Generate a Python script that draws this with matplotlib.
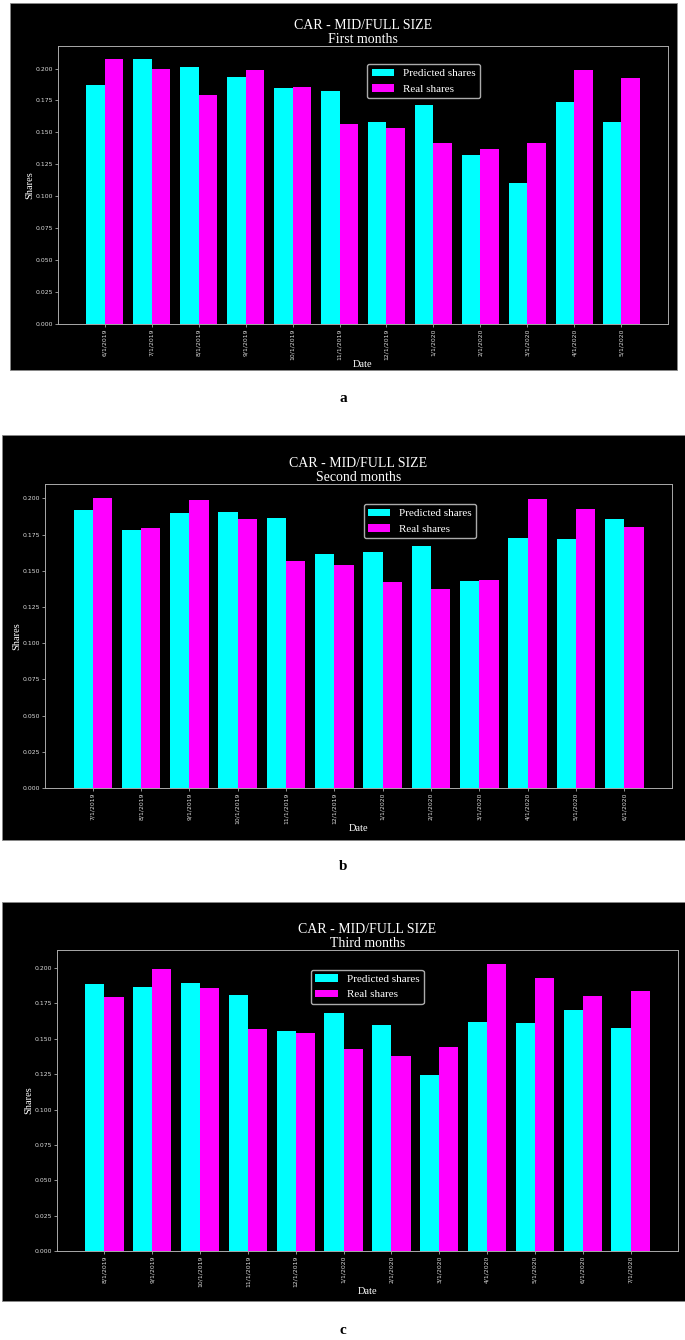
import matplotlib
matplotlib.use("Agg")
import matplotlib.pyplot as plt
from matplotlib.patches import Rectangle
import numpy as np

# ---------------- data ----------------
dates_a = ["6/1/2019", "7/1/2019", "8/1/2019", "9/1/2019", "10/1/2019", "11/1/2019",
           "12/1/2019", "1/1/2020", "2/1/2020", "3/1/2020", "4/1/2020", "5/1/2020"]
pred_a = [0.1875, 0.2073, 0.2010, 0.1935, 0.1844, 0.1825, 0.1585, 0.1713, 0.1322, 0.1106, 0.1737, 0.1578]
real_a = [0.2073, 0.1997, 0.1791, 0.1987, 0.1857, 0.1565, 0.1538, 0.1421, 0.1374, 0.1416, 0.1992, 0.1924]

dates_b = ["7/1/2019", "8/1/2019", "9/1/2019", "10/1/2019", "11/1/2019", "12/1/2019",
           "1/1/2020", "2/1/2020", "3/1/2020", "4/1/2020", "5/1/2020", "6/1/2020"]
pred_b = [0.1917, 0.1781, 0.1903, 0.1906, 0.1862, 0.1618, 0.1627, 0.1675, 0.1431, 0.1728, 0.1717, 0.1855]
real_b = [0.2000, 0.1795, 0.1991, 0.1859, 0.1569, 0.1539, 0.1424, 0.1376, 0.1435, 0.1995, 0.1926, 0.1804]

dates_c = ["8/1/2019", "9/1/2019", "10/1/2019", "11/1/2019", "12/1/2019", "1/1/2020",
           "2/1/2020", "3/1/2020", "4/1/2020", "5/1/2020", "6/1/2020", "7/1/2020"]
pred_c = [0.1884, 0.1865, 0.1894, 0.1809, 0.1554, 0.1681, 0.1594, 0.1244, 0.1615, 0.1608, 0.1702, 0.1573]
real_c = [0.1797, 0.1993, 0.1861, 0.1570, 0.1540, 0.1426, 0.1379, 0.1440, 0.2026, 0.1929, 0.1804, 0.1839]

main_title = "CAR - MID/FULL SIZE"
subtitles = ["First months", "Second months", "Third months"]
panel_letters = ["a", "b", "c"]

# ---------------- layout ----------------
W, H = 685, 1340
fig = plt.figure(figsize=(W / 100, H / 100), dpi=100, facecolor="white")

def fx(px):
    return px / W

def fy(py):
    return 1 - py / H

def rect_fig(x0, y0, x1, y1):
    return [fx(x0), fy(y1), fx(x1) - fx(x0), fy(y0) - fy(y1)]

panels = [
    dict(bg=(10, 3, 677, 370), ax=(58, 46, 668, 324), leg=(0.507, 0.935), letter=(343, 398),
         dates=dates_a, pred=pred_a, real=real_a),
    dict(bg=(2, 435, 685, 840), ax=(45, 484, 672, 788), leg=(0.508, 0.934), letter=(343, 866),
         dates=dates_b, pred=pred_b, real=real_b),
    dict(bg=(2, 902, 685, 1301), ax=(57, 950, 678, 1251), leg=(0.409, 0.934), letter=(343, 1330),
         dates=dates_c, pred=pred_c, real=real_c),
]

serif = "Liberation Serif"
width = 0.4

for i, p in enumerate(panels):
    x0, y0, x1, y1 = p["bg"]
    fig.add_artist(Rectangle((fx(x0), fy(y1)), fx(x1) - fx(x0), fy(y0) - fy(y1),
                             transform=fig.transFigure, facecolor="black",
                             edgecolor="#888888", linewidth=0.6, zorder=0))
    ax = fig.add_axes(rect_fig(*p["ax"]))
    ax.set_facecolor("black")
    x = np.arange(len(p["dates"]))
    ax.bar(x - width / 2, p["pred"], width, color="#00FFFF", label="Predicted shares")
    ax.bar(x + width / 2, p["real"], width, color="#FF00FF", label="Real shares")
    ax.set_xticks(x)
    ax.set_xticklabels(p["dates"], rotation=90, fontsize=4.4)
    yt = np.arange(0, 0.201, 0.025)
    ax.set_yticks(yt)
    ax.set_yticklabels([f"{v:.3f}" for v in yt], fontsize=4.4)
    ax.tick_params(axis="both", colors="#cccccc", length=2, width=0.5, pad=1.5, labelcolor="#dddddd")
    for s in ax.spines.values():
        s.set_color("#aaaaaa")
        s.set_linewidth(0.7)
    ax.set_title(main_title + "\n" + subtitles[i], fontfamily=serif, fontsize=10,
                 color="white", pad=2, linespacing=1.1)
    ax.set_ylabel("Shares", fontfamily=serif, fontsize=7.5, color="white", labelpad=1)
    ax.set_xlabel("Date", fontfamily=serif, fontsize=7.5, color="white", labelpad=0)
    leg = ax.legend(loc="upper left", bbox_to_anchor=p["leg"], borderaxespad=0,
                    prop={"family": serif, "size": 8}, facecolor="black",
                    edgecolor="#aaaaaa", framealpha=1, fancybox=True)
    for t in leg.get_texts():
        t.set_color("white")
    lx, ly = p["letter"]
    fig.text(fx(lx), fy(ly), panel_letters[i], fontfamily=serif, fontweight="bold",
             fontsize=11, ha="center", va="center", color="black")

fig.savefig("out.png", dpi=100, facecolor="white")
